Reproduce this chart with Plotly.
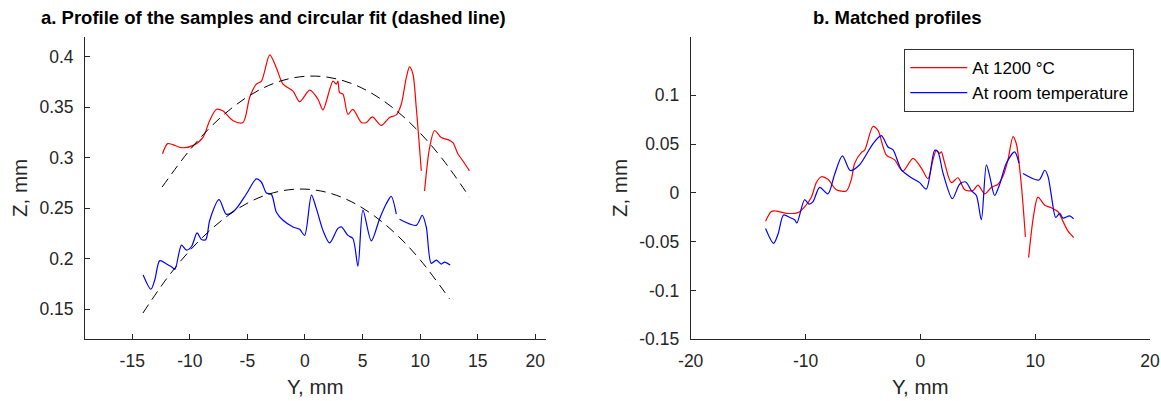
import plotly.graph_objects as go

# ---------------- Panel a: profiles of the samples ----------------
a_red_y = [-12.37, -11.93, -11.47, -10.78, -9.74, -8.87, -8.27, -7.68, -7.14, -6.24, -5.38, -4.80,
           -4.22, -3.78, -3.06, -2.48, -1.91, -1.04, -0.46, 0.41, 1.13, 1.56, 2.43, 2.72, 2.86, 3.01,
           3.30, 3.73, 4.16, 4.89, 5.33, 5.85, 6.63, 7.35, 7.93, 8.36, 8.79, 9.08, 9.37, 9.66, 10.10,
           None, 10.38, 10.82, 11.25, 11.83, 12.40, 12.84, 13.27, 13.70, 14.28]
a_red_z = [0.304, 0.314, 0.313, 0.310, 0.312, 0.320, 0.337, 0.348, 0.3465, 0.3366, 0.335, 0.360,
           0.373, 0.376, 0.402, 0.389, 0.373, 0.366, 0.3556, 0.367, 0.358, 0.3475, 0.376, 0.373, 0.376, 0.3645,
           0.363, 0.343, 0.348, 0.335, 0.335, 0.3405, 0.332, 0.340, 0.3425, 0.353, 0.379, 0.390, 0.383, 0.350, 0.287,
           None, 0.267, 0.310, 0.327, 0.320, 0.318, 0.315, 0.304, 0.297, 0.287]

a_blue_y = [-14.05, -13.38, -13.04, -12.61, -12.02, -11.59, -11.30, -10.72, -10.29, -9.85, -9.37, -8.99,
            -8.61, -8.27, -7.46, -6.82, -6.10, -5.08, -4.22, -3.78, -3.35, -2.91, -2.48, -1.91, -1.04,
            -0.46, -0.03, 0.56, 0.99, 1.56, 2.14, 2.86, 3.16, 3.73, 4.16, 4.60, 5.03, 5.76, 6.48, 7.06,
            7.49, 7.93, None, 8.21, 9.66, 10.18, 10.53, 10.96, 11.40, 11.83, 12.12, 12.61]
a_blue_z = [0.1837, 0.1696, 0.179, 0.198, 0.1946, 0.192, 0.1893, 0.2133, 0.2084, 0.212, 0.2255, 0.219,
            0.219, 0.238, 0.2584, 0.2439, 0.248, 0.2643, 0.279, 0.2757, 0.265, 0.2636, 0.246, 0.238, 0.2314,
            0.229, 0.223, 0.263, 0.2495, 0.228, 0.2156, 0.230, 0.2314, 0.223, 0.2199, 0.1926, 0.248, 0.2176, 0.2396, 0.2544,
            0.2616, 0.244, None, 0.239, 0.233, 0.243, 0.2314, 0.1953, 0.1985, 0.1946, 0.1966, 0.1936]

# circular fits (dashed)
fit_top_y = [-12.4, -10, -8, -6, -4, -2, 0, 2, 4, 6, 8, 10, 12, 14.28]
fit_top_z = [0.271, 0.3077, 0.3327, 0.3524, 0.367, 0.3765, 0.3807, 0.3798, 0.3738, 0.3625, 0.3461, 0.3245, 0.2978, 0.261]
fit_bot_y = [-14.07, -12, -10, -8, -6, -4, -2, 0, 2, 4, 6, 8, 10, 12.55]
fit_bot_z = [0.146, 0.1803, 0.208, 0.2305, 0.2482, 0.2604, 0.2672, 0.2689, 0.2654, 0.2566, 0.2425, 0.2233, 0.1988, 0.1601]

# ---------------- Panel b: matched profiles ----------------
b_hot_y = [-13.48, -12.98, -12.54, -11.67, -10.66, -10.08, -9.49, -9.06, -8.62, -8.05, -7.32, -6.45, -6.01,
           -5.72, -5.14, -4.85, -4.13, -3.69, -3.55, -2.96, -2.24, -1.52, -0.64, 0.09, 0.66, 1.10, 1.39,
           1.68, 1.83, 2.12, 2.70, 3.28, 3.86, 4.58, 5.02, 5.60, 6.18, 6.76, 7.20, 7.63, 8.07, 8.36, 8.80,
           9.15, None, 9.43, 9.87, 10.24, 10.83, 11.41, 11.99, 12.42, 12.86, 13.35]
b_hot_z = [-0.029, -0.019, -0.0186, -0.0209, -0.0202, -0.0143, -0.0044, 0.0105, 0.0165, 0.0139, 0.0033, 0.002, 0.0139,
           0.0304, 0.0413, 0.0437, 0.0680, 0.0640, 0.0600, 0.0388, 0.0338, 0.0222, 0.0354, 0.0254, 0.0145, 0.0338, 0.0437,
           0.0404, 0.042, 0.0304, 0.0105, 0.0155, 0.0033, 0.0023, 0.008, -0.001, 0.0056, 0.0089, 0.0172, 0.0338, 0.0577, 0.0503, 0.0073,
           -0.0451, None, -0.0663, -0.0225, -0.0044, -0.0126, -0.0153, -0.0193, -0.0292, -0.0392, -0.0457]

b_room_y = [-13.48, -12.78, -12.40, -11.91, -11.38, -10.95, -10.75, -10.08, -9.70, -9.36, -8.77, -8.05, -7.47,
            -6.79, -6.10, -5.29, -4.13, -3.40, -2.82, -2.39, -1.66, -0.78, -0.06, 0.52, 1.25, 1.53, 1.97,
            2.79, 3.42, 3.95, 4.44, 4.88, 5.31, 5.75, 6.04, 6.47, 6.91, 7.49, 8.21, 8.59, None, 8.94,
            10.33, 10.83, 11.11, 11.41, 11.79, 12.14, 12.42, 13.00, 13.35]
b_room_z = [-0.0365, -0.0517, -0.0424, -0.0226, -0.0252, -0.0275, -0.0308, -0.007, -0.0116, -0.0093, 0.0056, -0.001, 0.0189,
            0.038, 0.0229, 0.0288, 0.0503, 0.0586, 0.047, 0.0443, 0.0239, 0.0155, 0.0105, 0.004, 0.0437, 0.042, 0.0205,
            -0.006, 0.0089, 0.0112, 0.0023, -0.0027, -0.0275, 0.0288, 0.0172, -0.0027, 0.0089, 0.0304, 0.042, 0.0304, None, 0.0199,
            0.0132, 0.0232, 0.0172, -0.0027, -0.0252, -0.0209, -0.0258, -0.0235, -0.0265]

a_xticks = [-15, -10, -5, 0, 5, 10, 15, 20]
a_xticklabels = ["-15", "-10", "-5", "0", "5", "10", "15", "20"]
a_yticks = [0.15, 0.2, 0.25, 0.3, 0.35, 0.4]
a_yticklabels = ["0.15", "0.2", "0.25", "0.3", "0.35", "0.4"]
b_xticks = [-20, -10, 0, 10, 20]
b_xticklabels = ["-20", "-10", "0", "10", "20"]
b_yticks = [-0.15, -0.1, -0.05, 0, 0.05, 0.1]
b_yticklabels = ["-0.15", "-0.1", "-0.05", "0", "0.05", "0.1"]

FONT = "Liberation Sans, Arial, sans-serif"
AXC = "#262626"
W, H = 1161, 401


def px(x):
    return x / W


def py(y):
    return 1 - y / H


fig = go.Figure()
line_kw = dict(shape="spline", smoothing=0.8, width=1.2)
dash_kw = dict(color="#000000", width=1, dash="10px,6px", shape="spline")
fig.add_trace(go.Scatter(x=a_red_y, y=a_red_z, mode="lines", line=dict(color="#ff0000", **line_kw),
                         showlegend=False, connectgaps=False, xaxis="x", yaxis="y"))
fig.add_trace(go.Scatter(x=a_blue_y, y=a_blue_z, mode="lines", line=dict(color="#0000ff", **line_kw),
                         showlegend=False, connectgaps=False, xaxis="x", yaxis="y"))
fig.add_trace(go.Scatter(x=fit_top_y, y=fit_top_z, mode="lines", line=dash_kw,
                         showlegend=False, xaxis="x", yaxis="y"))
fig.add_trace(go.Scatter(x=fit_bot_y, y=fit_bot_z, mode="lines", line=dash_kw,
                         showlegend=False, xaxis="x", yaxis="y"))
fig.add_trace(go.Scatter(x=b_hot_y, y=b_hot_z, mode="lines", name="At 1200 °C",
                         line=dict(color="#ff0000", **line_kw), connectgaps=False, xaxis="x2", yaxis="y2"))
fig.add_trace(go.Scatter(x=b_room_y, y=b_room_z, mode="lines", name="At room temperature",
                         line=dict(color="#0000ff", **line_kw), connectgaps=False, xaxis="x2", yaxis="y2"))

ydom = [py(339.3), py(36.7)]
axis_common = dict(showline=True, linecolor=AXC, linewidth=1, ticks="inside", ticklen=5,
                   tickcolor=AXC, tickwidth=1, showgrid=False, zeroline=False, mirror=False,
                   automargin=False, tickfont=dict(family=FONT, size=17.5, color=AXC))
title_font = dict(family=FONT, size=20.5, color=AXC)

fig.update_layout(
    width=W, height=H,
    margin=dict(l=0, r=0, t=0, b=0),
    paper_bgcolor="white", plot_bgcolor="white",
    xaxis=dict(domain=[px(85), px(545.7)], range=[-19.1, 20.9], tickvals=a_xticks, ticktext=a_xticklabels,
               title=dict(text="Y, mm", font=title_font, standoff=9),
               anchor="y", ticklabelstandoff=6, **axis_common),
    yaxis=dict(domain=ydom, range=[0.12, 0.42], tickvals=a_yticks, ticktext=a_yticklabels,
               title=dict(text="Z, mm", font=title_font, standoff=6),
               anchor="x", ticklabelstandoff=7, **axis_common),
    xaxis2=dict(domain=[px(690.7), px(1150)], range=[-20, 20], tickvals=b_xticks, ticktext=b_xticklabels,
                title=dict(text="Y, mm", font=title_font, standoff=9),
                anchor="y2", ticklabelstandoff=6, **axis_common),
    yaxis2=dict(domain=ydom, range=[-0.15, 0.16], tickvals=b_yticks, ticktext=b_yticklabels,
                title=dict(text="Z, mm", font=title_font, standoff=6),
                anchor="x2", ticklabelstandoff=7, **axis_common),
    legend=dict(x=px(1134.3), y=py(49), xanchor="right", yanchor="top",
                bgcolor="white", bordercolor="#333333", borderwidth=1,
                font=dict(family=FONT, size=17, color="#000000"), itemwidth=57,
                tracegroupgap=0),
    annotations=[
        dict(text="<b>a. Profile of the samples and circular fit (dashed line)</b>", x=px(273), y=py(17.5),
             xref="paper", yref="paper", showarrow=False, xanchor="center", yanchor="middle",
             font=dict(family=FONT, size=18.5, color="#000000")),
        dict(text="<b>b. Matched profiles</b>", x=px(897.5), y=py(17.5),
             xref="paper", yref="paper", showarrow=False, xanchor="center", yanchor="middle",
             font=dict(family=FONT, size=18.5, color="#000000")),
    ],
)

# remove the default 8px page margin so the figure fills the 1161x401 window exactly
fig.write_html("out.html",
               config={"displayModeBar": False},
               post_script="document.body.style.margin='0';"
                           "document.documentElement.style.overflow='hidden';")
